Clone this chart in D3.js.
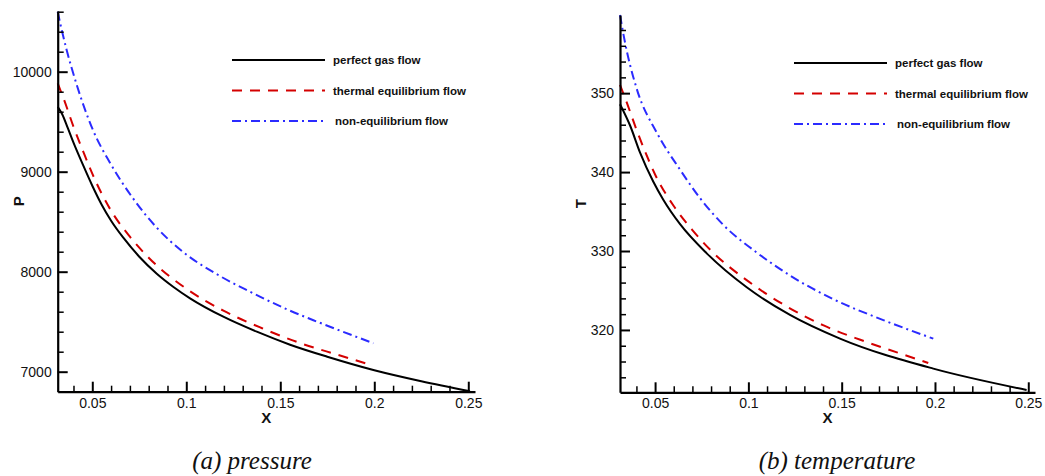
<!DOCTYPE html>
<html>
<head>
<meta charset="utf-8">
<script src="https://cdn.jsdelivr.net/npm/d3@7"></script>
<style>
  html, body { margin: 0; padding: 0; background: #fff; }
  svg { display: block; }
  text { font-family: "Liberation Sans", Arial, sans-serif; fill: #111; }
  .caption { font-family: "Liberation Serif", "Times New Roman", serif; font-style: italic; }
</style>
</head>
<body>
<svg id="chart" width="1045" height="476"></svg>
<script>
// ---- Series names ----
const seriesNames = ["perfect gas flow", "thermal equilibrium flow", "non-equilibrium flow"];

// ---- Pressure along X ----
const pPerfectX = [0.0316, 0.034, 0.037, 0.040, 0.045, 0.050, 0.055, 0.060, 0.0665, 0.075, 0.0843, 0.093, 0.102, 0.1197, 0.1375, 0.1552, 0.175, 0.200, 0.225, 0.2509];
const pPerfectY = [9650, 9575, 9435, 9290, 9070, 8860, 8670, 8510, 8340, 8150, 7980, 7850, 7734, 7550, 7400, 7270, 7150, 7015, 6905, 6805];
const pThermalX = [0.0316, 0.035, 0.040, 0.045, 0.050, 0.060, 0.070, 0.080, 0.100, 0.120, 0.140, 0.160, 0.180, 0.197];
const pThermalY = [9883, 9718, 9450, 9210, 8980, 8610, 8350, 8140, 7830, 7608, 7437, 7290, 7172, 7075];
const pNonEqX = [0.0316, 0.0337, 0.0364, 0.0417, 0.0505, 0.0594, 0.0718, 0.0843, 0.0984, 0.1162, 0.1339, 0.1534, 0.1676, 0.1995];
const pNonEqY = [10600, 10420, 10215, 9870, 9410, 9090, 8730, 8440, 8195, 7975, 7800, 7625, 7515, 7285];

// ---- Temperature along X ----
const tPerfectX = [0.0312, 0.0366, 0.0419, 0.0490, 0.0544, 0.0634, 0.0777, 0.0991, 0.1223, 0.1491, 0.1991, 0.2491];
const tPerfectY = [348.6, 345.9, 342.5, 338.8, 336.5, 333.4, 329.7, 325.4, 321.9, 318.9, 315.1, 312.4];
const tThermalX = [0.0312, 0.035, 0.040, 0.045, 0.050, 0.060, 0.070, 0.080, 0.100, 0.120, 0.140, 0.160, 0.180, 0.1964];
const tThermalY = [351.05, 348.7, 345.4, 342.4, 339.7, 335.7, 332.65, 330.05, 326.15, 323.05, 320.6, 318.75, 317.13, 315.82];
const tNonEqX = [0.0312, 0.0339, 0.0401, 0.0509, 0.0634, 0.0741, 0.0866, 0.1045, 0.1223, 0.1455, 0.1723, 0.1991];
const tNonEqY = [359.9, 356.4, 350.6, 345.0, 340.3, 336.7, 333.3, 329.8, 326.9, 323.9, 321.25, 318.9];

// ---- Tick values ----
const xMajorTicks = [0.05, 0.1, 0.15, 0.2, 0.25];
const xTickLabels = ["0.05", "0.1", "0.15", "0.2", "0.25"];
const xMinorTicks = [0.04, 0.06, 0.07, 0.08, 0.09, 0.11, 0.12, 0.13, 0.14, 0.16, 0.17, 0.18, 0.19, 0.21, 0.22, 0.23, 0.24];
const pMajorTicks = [7000, 8000, 9000, 10000];
const pMinorTicks = [7200, 7400, 7600, 7800, 8200, 8400, 8600, 8800, 9200, 9400, 9600, 9800, 10200, 10400, 10600];
const tMajorTicks = [320, 330, 340, 350];
const tMinorTicks = [314, 316, 318, 322, 324, 326, 328, 332, 334, 336, 338, 342, 344, 346, 348, 352, 354, 356, 358];

const captions = ["(a) pressure", "(b) temperature"];

const styles = [
  { color: "#000000", dash: null },
  { color: "#d40000", dash: "10,8" },
  { color: "#2b2bff", dash: "9,4,2,4" }
];

const svg = d3.select("#chart");

function zip(xs, ys) { return xs.map((x, i) => ({ x, y: ys[i] })); }

function drawPanel(cfg) {
  const { left, right, top, bottom, xDomain, yDomain, series, yMajor, yMinor, yTitle, yTitleX, legendX, legendY, caption, captionX } = cfg;
  const x = d3.scaleLinear().domain(xDomain).range([left, right]);
  const y = d3.scaleLinear().domain(yDomain).range([bottom, top]);
  const g = svg.append("g");

  // curves
  const line = d3.line().x(d => x(d.x)).y(d => y(d.y)).curve(d3.curveMonotoneX);
  series.forEach((s, i) => {
    g.append("path")
      .datum(s)
      .attr("fill", "none")
      .attr("stroke", styles[i].color)
      .attr("stroke-width", 2)
      .attr("stroke-dasharray", styles[i].dash)
      .attr("d", line);
  });

  // minor ticks
  g.append("g").attr("transform", `translate(0,${bottom})`)
    .call(d3.axisBottom(x).tickValues(xMinorTicks).tickSize(-6).tickFormat(""))
    .call(a => a.select(".domain").remove())
    .call(a => a.selectAll("line").attr("stroke", "#000").attr("stroke-width", 1.5));
  g.append("g").attr("transform", `translate(${left},0)`)
    .call(d3.axisLeft(y).tickValues(yMinor).tickSize(-6).tickFormat(""))
    .call(a => a.select(".domain").remove())
    .call(a => a.selectAll("line").attr("stroke", "#000").attr("stroke-width", 1.5));

  // major axes
  const xAxis = g.append("g").attr("transform", `translate(0,${bottom})`)
    .call(d3.axisBottom(x).tickValues(xMajorTicks).tickSize(-10).tickSizeOuter(0).tickPadding(6)
      .tickFormat((d, i) => xTickLabels[i]));
  const yAxis = g.append("g").attr("transform", `translate(${left},0)`)
    .call(d3.axisLeft(y).tickValues(yMajor).tickSize(-10).tickSizeOuter(0).tickPadding(6).tickFormat(d3.format("d")));
  [xAxis, yAxis].forEach(a => {
    a.select(".domain").attr("stroke", "#000").attr("stroke-width", 2.2);
    a.selectAll(".tick line").attr("stroke", "#000").attr("stroke-width", 2);
    a.selectAll(".tick text").attr("font-size", 14).attr("fill", "#111")
      .style("font-family", '"Liberation Sans", Arial, sans-serif');
  });

  // axis titles
  g.append("text").attr("x", (left + right) / 2).attr("y", 423)
    .attr("text-anchor", "middle").attr("font-size", 15).attr("font-weight", "bold").text("X");
  g.append("text").attr("transform", `translate(${yTitleX},${(top + bottom) / 2}) rotate(-90)`)
    .attr("text-anchor", "middle").attr("font-size", 15).attr("font-weight", "bold").text(yTitle);

  // legend
  seriesNames.forEach((name, i) => {
    const ly = legendY + i * 30.5;
    g.append("line").attr("x1", legendX).attr("x2", legendX + 93).attr("y1", ly).attr("y2", ly)
      .attr("stroke", styles[i].color).attr("stroke-width", 2).attr("stroke-dasharray", styles[i].dash);
    g.append("text").attr("x", legendX + 101 + (i === 2 ? 2 : 0)).attr("y", ly + 4)
      .attr("font-size", 11.5).attr("font-weight", "bold").text(name);
  });

  // caption
  svg.append("text").attr("class", "caption").attr("x", captionX).attr("y", 469)
    .attr("text-anchor", "middle").attr("font-size", 25).text(caption);
}

drawPanel({
  left: 57.7, right: 475, top: 11, bottom: 391.7,
  xDomain: [0.0316, 0.0316 + (475 - 57.7) / 1880],
  yDomain: [6800, 10607],
  series: [zip(pPerfectX, pPerfectY), zip(pThermalX, pThermalY), zip(pNonEqX, pNonEqY)],
  yMajor: pMajorTicks, yMinor: pMinorTicks, yTitle: "P", yTitleX: 24,
  legendX: 232, legendY: 60,
  caption: captions[0], captionX: 252
});

drawPanel({
  left: 620, right: 1035, top: 15, bottom: 392.3,
  xDomain: [0.0312, 0.0312 + (1035 - 620) / 1866],
  yDomain: [312.1, 359.9],
  series: [zip(tPerfectX, tPerfectY), zip(tThermalX, tThermalY), zip(tNonEqX, tNonEqY)],
  yMajor: tMajorTicks, yMinor: tMinorTicks, yTitle: "T", yTitleX: 586,
  legendX: 794, legendY: 63,
  caption: captions[1], captionX: 837
});
</script>
</body>
</html>
